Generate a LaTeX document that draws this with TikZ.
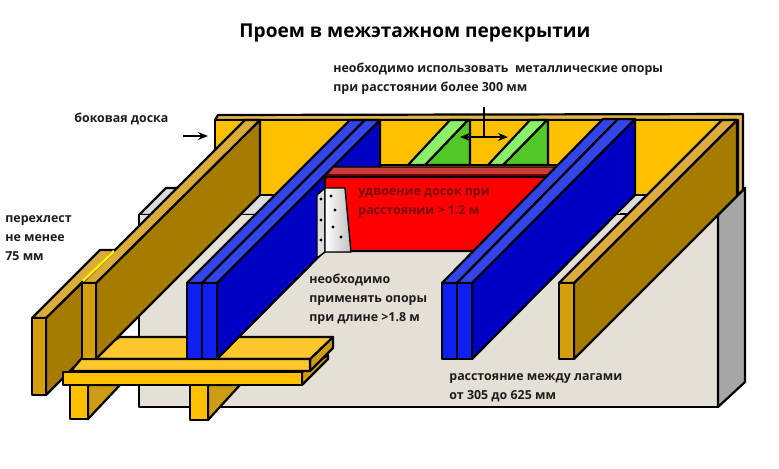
\documentclass[tikz,border=0pt]{standalone}
\usepackage{fontspec}
\setmainfont{Open Sans}
\usetikzlibrary{arrows.meta}
\definecolor{orangewood}{HTML}{FFC000}
\definecolor{railwood}{HTML}{E3B64A}
\definecolor{goldfront}{HTML}{D59E0E}
\definecolor{goldtop}{HTML}{DCAC3A}
\definecolor{goldside}{HTML}{A67C00}
\definecolor{plankfront}{HTML}{FFC000}
\definecolor{planktop}{HTML}{FFC72E}
\definecolor{legside}{HTML}{CC9C12}
\definecolor{bluefront}{HTML}{0F1FF0}
\definecolor{bluetop}{HTML}{3345E8}
\definecolor{blueside}{HTML}{0000C4}
\definecolor{greenlight}{HTML}{8CF06A}
\definecolor{greendark}{HTML}{52C828}
\definecolor{redfront}{HTML}{FF0000}
\definecolor{redtop}{HTML}{C83C3C}
\definecolor{reddark}{HTML}{6E0000}
\definecolor{floorbeige}{HTML}{E5E0D6}
\definecolor{floorgray}{HTML}{DCDCDC}
\definecolor{sidegray}{HTML}{A6A6A6}
\definecolor{labeldark}{HTML}{1C1C1C}
\definecolor{labelred}{HTML}{7A0C0C}
\tikzset{
	part/.style={draw=black,line width=1.1pt,line join=round},
	label/.style={inner sep=0pt,anchor=west,align=left,text=labeldark,font=\fontsize{6.2}{9.5}\selectfont\bfseries},
	arrowline/.style={line width=1pt,-{Stealth[length=5pt,width=4pt]}}
}
\begin{document}
\begin{tikzpicture}[x=0.5pt,y=-0.5pt]
        \useasboundingbox (0,0) rectangle (779,468);
        % floor
        \coordinate (floor_a) at (139,215);
        \coordinate (floor_b) at (718,215);
        \coordinate (floor_c) at (718,407);
        \coordinate (floor_d) at (139,407);
        \coordinate (floor_e) at (166,188);
        \coordinate (floor_f) at (745,188);
        \coordinate (floor_g) at (745,382);
        \filldraw[part,fill=floorgray] (floor_a) -- (floor_e) -- (floor_f) -- (floor_b) -- cycle;
        \filldraw[fill=floorbeige,draw=none] (floor_a) rectangle (floor_c);
        \draw[part] (floor_a) -- (floor_d) -- (floor_c) -- (floor_b);
        \filldraw[part,fill=sidegray] (floor_b) -- (floor_f) -- (floor_g) -- (floor_c) -- cycle;
        \draw[part] (620,214) -- (628,214);
        % header
        \filldraw[part,fill=railwood] (215,120) -- (218,115) -- (743,114) -- (743,190) -- (738,195) -- (738,120) -- cycle;
        \filldraw[part,fill=orangewood] (215,120) rectangle (738,195);
        % green braces
        \filldraw[part,fill=greendark] (425,165) -- (468,120) -- (470,120) -- (470,165) -- cycle;
        \filldraw[part,fill=greenlight] (408,165) -- (450,120) -- (468,120) -- (425,165) -- cycle;
        \filldraw[part,fill=greendark] (503,165) -- (547,120) -- (548,120) -- (548,165) -- cycle;
        \filldraw[part,fill=greenlight] (488,165) -- (530,120) -- (547,120) -- (503,165) -- cycle;
        \draw[part] (380,165) -- (570,165);
        % lapped joist
        \filldraw[part,fill=goldside] (46,318) -- (115,250) -- (115,326) -- (46,395) -- cycle;
        \filldraw[part,fill=goldtop] (32,318) -- (100,250) -- (115,250) -- (46,318) -- cycle;
        \filldraw[part,fill=goldfront] (32,318) rectangle (46,395);
        % legs
        \filldraw[part,fill=legside] (88,385) -- (120,385) -- (88,419) -- cycle;
        \filldraw[part,fill=plankfront] (70,385) rectangle (88,419);
        \filldraw[part,fill=legside] (208,385) -- (240,385) -- (208,420) -- cycle;
        \filldraw[part,fill=plankfront] (190,385) rectangle (208,420);
        % planks
        \filldraw[part,fill=legside] (302,372) -- (328,355) -- (328,359) -- (302,385) -- cycle;
        \filldraw[part,fill=plankfront] (63,372) rectangle (302,385);
        \filldraw[part,fill=legside] (310,359) -- (333,337) -- (333,348) -- (310,371) -- cycle;
        \filldraw[part,fill=planktop] (120,337) -- (333,337) -- (310,359) -- (81,359) -- cycle;
        \filldraw[part,fill=planktop] (81,359) -- (310,359) -- (310,371) -- (71,371) -- cycle;
        % left blue joist
        \filldraw[part,fill=blueside] (217,283) -- (380,120) -- (380,195) -- (217,359) -- cycle;
        \filldraw[part,fill=bluetop] (187,283) -- (350,120) -- (365,120) -- (202,283) -- cycle;
        \filldraw[part,fill=bluetop] (202,283) -- (365,120) -- (380,120) -- (217,283) -- cycle;
        \filldraw[part,fill=bluefront] (187,283) rectangle (202,359);
        \filldraw[part,fill=bluefront] (202,283) rectangle (217,359);
        % red double board
        \filldraw[draw=black,line width=.7pt,fill=redtop] (325,177) -- (333,167) -- (558,167) -- (549,177) -- cycle;
        \draw[reddark,line width=1.2pt] (327,175) -- (551,175);
        \filldraw[part,fill=redfront] (325,177) -- (549,177) -- (520,251) -- (325,251) -- cycle;
        % bracket
        \filldraw[part,line width=.7pt,fill=floorgray] (317,195) -- (325,188) -- (325,252) -- (317,258) -- cycle;
        \filldraw[part,line width=.7pt,left color=white,right color=lightgray] (325,188) -- (345,188) -- (351,252) -- (325,252) -- cycle;
        \foreach \px/\py in {321/199,321/220,321/240,331/196,335/210,333/227,341/237}
            \fill[black] (\px,\py) circle (1.6);
        % right blue joist
        \filldraw[part,fill=blueside] (472,283) -- (635,119) -- (635,195) -- (472,359) -- cycle;
        \filldraw[part,fill=bluetop] (442,283) -- (603,119) -- (618,119) -- (457,283) -- cycle;
        \filldraw[part,fill=bluetop] (457,283) -- (618,119) -- (635,119) -- (472,283) -- cycle;
        \filldraw[part,fill=bluefront] (442,283) rectangle (457,359);
        \filldraw[part,fill=bluefront] (457,283) rectangle (472,359);
        % right gold joist
        \filldraw[part,fill=goldside] (574,283) -- (737,120) -- (737,196) -- (574,359) -- cycle;
        \filldraw[part,fill=goldtop] (559,283) -- (722,120) -- (737,120) -- (574,283) -- cycle;
        \filldraw[part,fill=goldfront] (559,283) rectangle (574,359);
        % left gold joist
        \filldraw[part,fill=goldside] (96,283) -- (260,120) -- (260,195) -- (96,359) -- cycle;
        \filldraw[part,fill=goldtop] (82,283) -- (245,120) -- (260,120) -- (96,283) -- cycle;
        \filldraw[part,fill=goldfront] (82,283) rectangle (96,359);
        \draw[yellow,line width=1.3pt] (83,281) -- (114,251);
        % labels
        \node[inner sep=0pt,text=black,font=\fontsize{9.55}{12}\selectfont\bfseries] (title) at (415,33) {Проем в межэтажном перекрытии};
        \node[label] (metal) at (333,78.5) {необходимо использовать\ \ металлические опоры\\при расстоянии более 300 мм};
        \node[label] (side) at (74,119) {боковая доска};
        \node[label] (lap) at (5,238) {перехлест\\не менее\\75 мм};
        \node[label,text=labelred] (double) at (358,203.5) {удвоение досок при\\расстоянии > 1.2 м};
        \node[label] (supports) at (309,299) {необходимо\\применять опоры\\при длине >1.8 м};
        \node[label] (gap) at (449,387.5) {расстояние между лагами\\от 305 до 625 мм};
        % arrows
        \coordinate (side_from) at (183,136);
        \coordinate (side_to) at (208,136);
        \coordinate (gap_l) at (460,137);
        \coordinate (gap_r) at (508,137);
        \coordinate (gap_t) at (484,107);
        \coordinate (gap_m) at (484,137);
        \draw[arrowline] (side_from) -- (side_to);
        \draw[arrowline,{Stealth[length=5pt,width=4pt]}-{Stealth[length=5pt,width=4pt]}] (gap_l) -- (gap_r);
        \draw[line width=1pt] (gap_t) -- (gap_m);
    \end{tikzpicture}
\end{document}
